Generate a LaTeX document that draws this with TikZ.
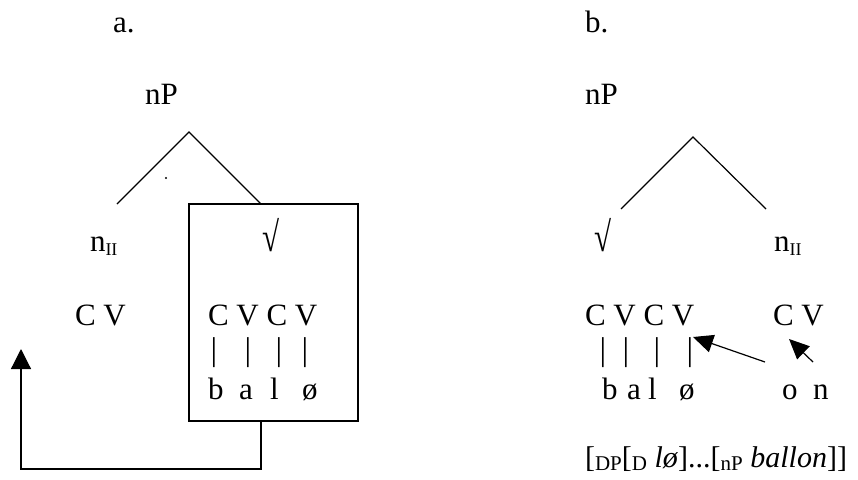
\documentclass[tikz,border=0pt]{standalone}
\usepackage{fontspec}
\setmainfont{Liberation Serif}
\usetikzlibrary{arrows.meta}
\newcommand{\fsub}[1]{\raisebox{-3pt}{\fontsize{21}{21}\selectfont #1}}
\newcommand{\IIsub}{\raisebox{-4pt}{\fontsize{18}{18}\selectfont II}}
\newcommand{\rootsign}{\scalebox{1}[1.35]{√}}
\begin{document}
\begin{tikzpicture}[x=1pt,y=-1pt,
  every node/.style={inner sep=0pt,outer sep=0pt},
  lbl/.style={anchor=base west,font=\fontsize{31}{31}\selectfont},
  barl/.style={anchor=center,font=\fontsize{33}{33}\selectfont},
  ln/.style={line width=1.2pt},
  arr/.style={ln,-{Triangle[length=20pt,width=20pt]}},
  arrs/.style={ln,-{Triangle[length=20pt,width=18pt]}}]
\useasboundingbox (0,0) rectangle (858,479);

% ---------- a ----------
\node[lbl] (la) at (113,32) {a.};
\node[lbl] (npa) at (145,104) {nP};
\coordinate (apA) at (189,132);
\coordinate (lA) at (117,204);
\node[draw,ln,minimum width=169pt,minimum height=217pt,anchor=north west] (box) at (189,204) {};
\coordinate (rA) at ([xshift=72pt]box.north west);
\draw[ln] (lA) -- (apA) -- (rA);
\fill (166,178) circle (1.1pt);

\node[lbl] (nIIa) at (90,251) {n\IIsub};
\node[lbl] (sqa) at (262,251) {\rootsign};
\node[lbl] (cva) at (75,325) {C V};
\node[lbl] (cvcva) at (208,325) {C V C V};
\node[barl] (ba1) at (214,353) {|};
\node[barl] (ba2) at (248,353) {|};
\node[barl] (ba3) at (279,353) {|};
\node[barl] (ba4) at (305,353) {|};
\node[lbl] (sa1) at (208,399) {b};
\node[lbl] (sa2) at (239,399) {a};
\node[lbl] (sa3) at (270,399) {l};
\node[lbl] (sa4) at (302,399) {ø};

\coordinate (stem) at ([xshift=72pt]box.south west);
\coordinate (corner) at (21,469);
\coordinate (tipA) at (21,349);
\draw[arr] (stem) |- (corner) -- (tipA);

% ---------- b ----------
\node[lbl] (lb) at (585,32) {b.};
\node[lbl] (npb) at (585,104) {nP};
\coordinate (apB) at (693,137);
\coordinate (lB) at (621,209);
\coordinate (rB) at (766,209);
\draw[ln] (lB) -- (apB) -- (rB);

\node[lbl] (sqb) at (594,251) {\rootsign};
\node[lbl] (nIIb) at (774,251) {n\IIsub};
\node[lbl] (cvcvb) at (585,325) {C V C V};
\node[lbl] (cvb) at (773,325) {C V};
\node[barl] (bb1) at (603,353) {|};
\node[barl] (bb2) at (626,353) {|};
\node[barl] (bb3) at (657,353) {|};
\node[barl] (bb4) at (690,353) {|};
\node[lbl] (sb1) at (602,399) {b};
\node[lbl] (sb2) at (627,399) {a};
\node[lbl] (sb3) at (648,399) {l};
\node[lbl] (sb4) at (679,399) {ø};
\node[lbl] (sb5) at (782,399) {o};
\node[lbl] (sb6) at (813,399) {n};

\coordinate (s1) at (765,362);
\coordinate (t1) at (693,337);
\coordinate (s2) at (813,362);
\coordinate (t2) at (789,339);
\draw[arrs] (s1) -- (t1);
\draw[arrs] (s2) -- (t2);

\node[anchor=base west,font=\fontsize{30}{30}\selectfont] (form) at (585,467)
  {[\fsub{DP}[\fsub{D} \textit{lø}]...[\fsub{nP} \textit{ballon}]]};
\end{tikzpicture}
\end{document}
